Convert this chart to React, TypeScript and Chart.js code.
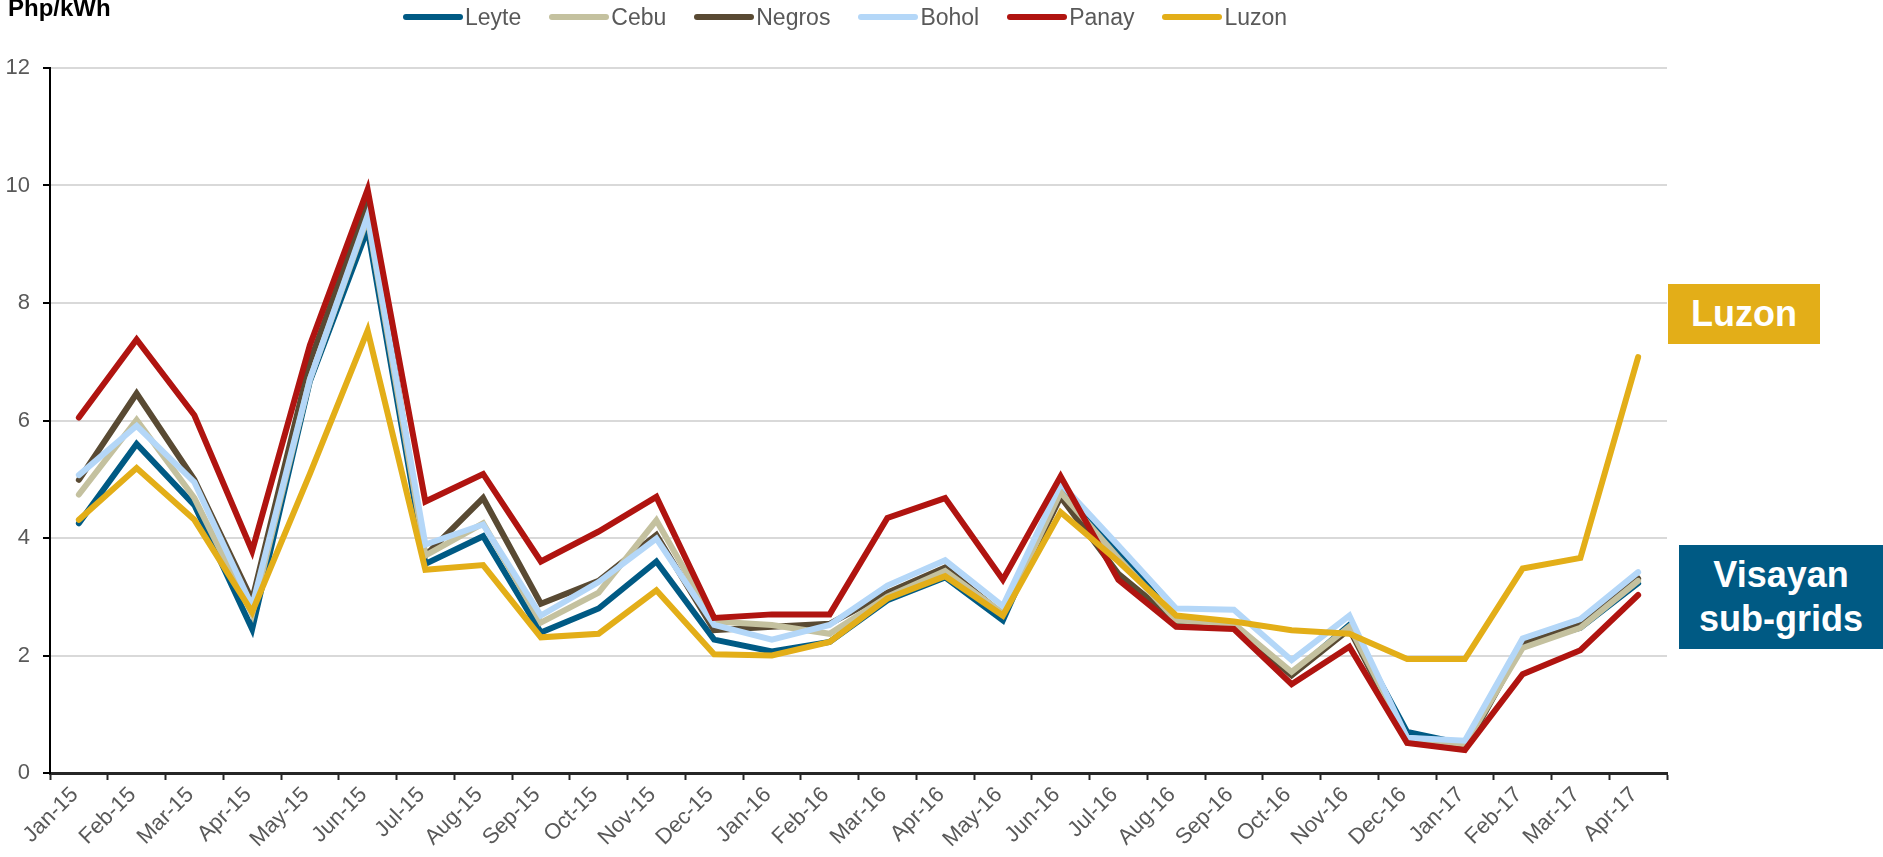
import React, { useEffect, useRef } from "react";
import { Chart, registerables } from "chart.js";

Chart.register(...registerables);

const months = [
  "Jan-15", "Feb-15", "Mar-15", "Apr-15", "May-15", "Jun-15", "Jul-15", "Aug-15",
  "Sep-15", "Oct-15", "Nov-15", "Dec-15", "Jan-16", "Feb-16", "Mar-16", "Apr-16",
  "May-16", "Jun-16", "Jul-16", "Aug-16", "Sep-16", "Oct-16", "Nov-16", "Dec-16",
  "Jan-17", "Feb-17", "Mar-17", "Apr-17",
];

const leyte = [4.25, 5.6, 4.56, 2.45, 6.67, 9.26, 3.56, 4.03, 2.39, 2.8, 3.6, 2.27, 2.07, 2.23, 2.94, 3.33, 2.6, 4.8, 3.78, 2.6, 2.52, 1.68, 2.52, 0.7, 0.49, 2.2, 2.47, 3.23];
const cebu = [4.74, 6.01, 4.68, 2.7, 6.7, 9.45, 3.7, 4.25, 2.56, 3.07, 4.3, 2.58, 2.52, 2.37, 3.0, 3.44, 2.72, 4.78, 3.66, 2.6, 2.54, 1.72, 2.49, 0.6, 0.49, 2.13, 2.47, 3.27];
const negros = [4.99, 6.46, 4.99, 2.94, 7.0, 9.69, 3.7, 4.68, 2.88, 3.27, 4.05, 2.43, 2.49, 2.54, 3.07, 3.5, 2.7, 4.7, 3.39, 2.58, 2.49, 1.66, 2.45, 0.53, 0.41, 2.19, 2.52, 3.31];
const bohol = [5.07, 5.91, 4.95, 2.84, 6.7, 9.49, 3.89, 4.23, 2.68, 3.25, 3.99, 2.52, 2.27, 2.52, 3.19, 3.62, 2.84, 4.93, 3.87, 2.8, 2.78, 1.92, 2.68, 0.6, 0.55, 2.29, 2.62, 3.42];
const panay = [6.05, 7.38, 6.09, 3.78, 7.28, 9.93, 4.62, 5.09, 3.6, 4.11, 4.7, 2.64, 2.7, 2.7, 4.34, 4.68, 3.29, 5.05, 3.29, 2.49, 2.45, 1.51, 2.15, 0.51, 0.39, 1.68, 2.09, 3.03];
const luzon = [4.31, 5.19, 4.31, 2.74, 5.09, 7.53, 3.46, 3.54, 2.31, 2.37, 3.11, 2.02, 2.0, 2.23, 2.97, 3.35, 2.68, 4.44, 3.6, 2.68, 2.58, 2.43, 2.37, 1.94, 1.94, 3.48, 3.66, 7.08];

const seriesNames = ["Leyte", "Cebu", "Negros", "Bohol", "Panay", "Luzon"];
const seriesColors = ["#005A84", "#C4C19F", "#594A33", "#B4D7F8", "#B01410", "#E3AE18"];
const seriesValues = [leyte, cebu, negros, bohol, panay, luzon];
const drawOrder = [5, 3, 4, 2, 1, 0];

const yMin = 0;
const yMax = 12;
const yStep = 2;

const FONT = "'Liberation Sans', Arial, Helvetica, sans-serif";
const GRAY = "#595959";

export default function App() {
  const ref = useRef<HTMLCanvasElement>(null);

  useEffect(() => {
    document.body.style.margin = "0";
    const chart = new Chart(ref.current!, {
      type: "line",
      data: {
        labels: months,
        datasets: seriesNames.map((name, i) => ({
          label: name,
          data: seriesValues[i],
          borderColor: seriesColors[i],
          backgroundColor: seriesColors[i],
          borderWidth: 6,
          pointRadius: 0,
          pointHoverRadius: 0,
          tension: 0,
          borderCapStyle: "round" as const,
          order: drawOrder[i],
        })),
      },
      options: {
        responsive: false,
        maintainAspectRatio: false,
        animation: false,
        layout: { padding: { top: 68, right: 216, left: 0, bottom: 0 } },
        plugins: {
          legend: { display: false },
          tooltip: { enabled: false },
          title: { display: false },
        },
        scales: {
          x: {
            type: "category",
            offset: true,
            grid: {
              offset: true,
              drawOnChartArea: false,
              drawTicks: true,
              tickLength: 7,
              tickColor: "#262626",
              tickWidth: 2,
            },
            border: { color: "#262626", width: 3 },
            ticks: {
              autoSkip: false,
              maxRotation: 45,
              minRotation: 45,
              padding: 2,
              labelOffset: -4,
              color: GRAY,
              font: { family: FONT, size: 22 },
            },
            afterFit: (s: any) => {
              s.height = 84;
            },
          },
          y: {
            min: yMin,
            max: yMax,
            ticks: {
              stepSize: yStep,
              padding: 13,
              color: GRAY,
              font: { family: FONT, size: 22 },
            },
            grid: {
              color: "#D9D9D9",
              lineWidth: 2,
              drawTicks: true,
              tickLength: 7,
              tickColor: "#000000",
              tickWidth: 2,
            },
            border: { color: "#000000", width: 2 },
            afterFit: (s: any) => {
              s.width = 50;
            },
          },
        },
      },
    });
    return () => chart.destroy();
  }, []);

  return (
    <div style={{ position: "relative", width: 1883, height: 857, overflow: "hidden", background: "#fff", fontFamily: FONT }}>
      <canvas ref={ref} width={1883} height={857} style={{ position: "absolute", left: 0, top: 0 }} />
      <div style={{ position: "absolute", left: 8, top: -4, fontSize: 24, lineHeight: "24px", fontWeight: 700, color: "#000" }}>
        Php/kWh
      </div>
      <div style={{ position: "absolute", left: 403, top: 5, display: "flex", alignItems: "center", height: 24 }}>
        {seriesNames.map((name, i) => (
          <div key={name} style={{ display: "flex", alignItems: "center", marginRight: 28 }}>
            <div style={{ width: 60, height: 6, borderRadius: 3, background: seriesColors[i] }} />
            <span style={{ marginLeft: 2, fontSize: 23, lineHeight: "24px", color: GRAY }}>{name}</span>
          </div>
        ))}
      </div>
      <div style={{ position: "absolute", left: 1668, top: 284, width: 152, height: 60, background: "#E3AE18", color: "#fff", fontWeight: 700, fontSize: 36, display: "flex", alignItems: "center", justifyContent: "center" }}>
        Luzon
      </div>
      <div style={{ position: "absolute", left: 1679, top: 545, width: 204, height: 104, background: "#005A84", color: "#fff", fontWeight: 700, fontSize: 36, lineHeight: "44px", display: "flex", flexDirection: "column", alignItems: "center", justifyContent: "center", textAlign: "center" }}>
        <span>Visayan</span>
        <span>sub-grids</span>
      </div>
    </div>
  );
}
